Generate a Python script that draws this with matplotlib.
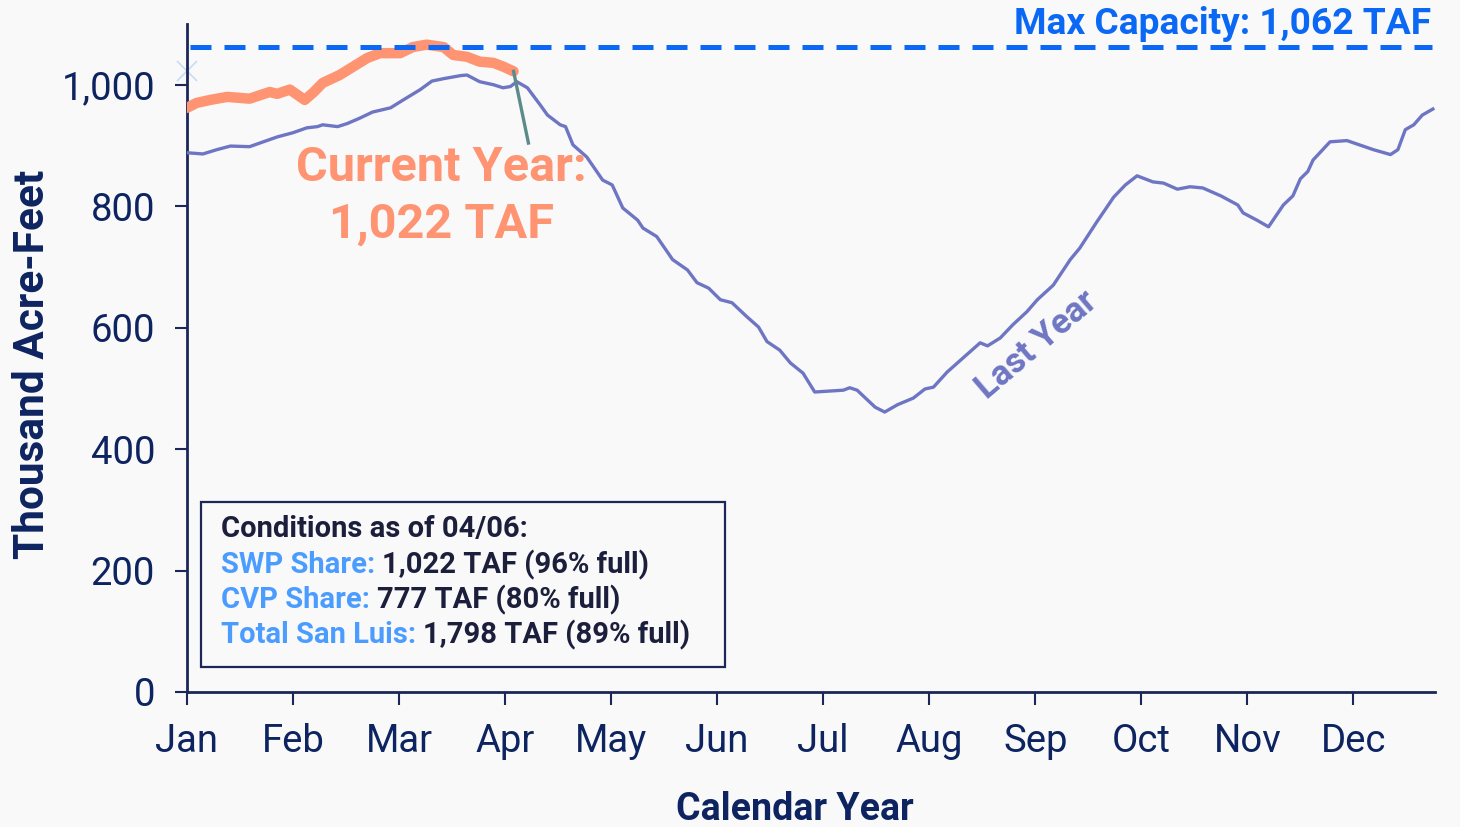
import matplotlib
matplotlib.use("Agg")
import matplotlib.pyplot as plt
from matplotlib.patches import Rectangle

plt.rcParams["font.family"] = ["Roboto", "DejaVu Sans"]

# month position (0 = Jan 1, 1 = Feb 1, ...) and storage in TAF
ly_month = [0.00, 0.15, 0.28, 0.41, 0.59, 0.85, 1.00, 1.13, 1.23, 1.28, 1.42, 1.51, 1.63, 1.75,
            1.92, 2.04, 2.20, 2.31, 2.42, 2.58, 2.64, 2.76, 2.89, 2.98, 3.05, 3.11, 3.21, 3.33,
            3.40, 3.52, 3.57, 3.64, 3.77, 3.92, 4.01, 4.11, 4.25, 4.30, 4.43, 4.58, 4.72, 4.81,
            4.92, 5.03, 5.14, 5.28, 5.39, 5.47, 5.59, 5.69, 5.81, 5.92, 6.19, 6.25, 6.32, 6.49,
            6.58, 6.70, 6.85, 6.96, 7.04, 7.17, 7.37, 7.48, 7.55, 7.67, 7.79, 7.92, 8.02, 8.17,
            8.33, 8.42, 8.58, 8.74, 8.85, 8.96, 9.11, 9.21, 9.34, 9.46, 9.58, 9.75, 9.91, 9.96,
            10.09, 10.20, 10.34, 10.43, 10.50, 10.57, 10.62, 10.78, 10.94, 11.09, 11.19, 11.35,
            11.42, 11.49, 11.57, 11.65, 11.75]
ly_taf = [888, 886, 893, 899, 898, 914, 921, 929, 931, 934, 931, 936, 945, 955,
          962, 975, 992, 1006, 1010, 1015, 1016, 1005, 1000, 995, 997, 1005, 995, 967,
          950, 934, 931, 901, 881, 843, 835, 797, 777, 764, 750, 712, 695, 674,
          665, 646, 641, 618, 601, 577, 563, 542, 525, 494, 497, 501, 497, 469,
          461, 473, 484, 499, 502, 527, 558, 575, 570, 583, 605, 626, 646, 670,
          712, 731, 774, 815, 835, 850, 840, 838, 828, 832, 830, 817, 802, 789,
          777, 766, 802, 817, 845, 857, 876, 906, 908, 899, 893, 885,
          893, 926, 934, 950, 960]

cy_month = [0.00, 0.09, 0.22, 0.38, 0.59, 0.78, 0.85, 0.97, 1.11, 1.19, 1.28, 1.44, 1.57,
            1.70, 1.82, 2.01, 2.13, 2.26, 2.42, 2.51, 2.64, 2.76, 2.89, 2.98, 3.08]
cy_taf = [962, 970, 975, 980, 977, 988, 985, 992, 975, 987, 1003, 1016, 1030,
          1044, 1052, 1052, 1062, 1066, 1062, 1049, 1046, 1038, 1036, 1030, 1022]

max_capacity = 1062
current_value = 1022
months = ["Jan", "Feb", "Mar", "Apr", "May", "Jun", "Jul", "Aug", "Sep", "Oct", "Nov", "Dec"]
y_ticks = [0, 200, 400, 600, 800, 1000]

box_title = "Conditions as of 04/06:"
box_labels = ["SWP Share:", "CVP Share:", "Total San Luis:"]
box_values = ["1,022 TAF (96% full)", "777 TAF (80% full)", "1,798 TAF (89% full)"]

BG = "#f9f9f9"
NAVY = "#1c2657"
TICK_TXT = "#0d2461"
LY_COLOR = "#6e76c4"
CY_COLOR = "#ff9473"
CAP_COLOR = "#0a68f5"
LABEL_BLUE = "#4b9cff"
DARK = "#1b1f3b"

W, H = 1460, 827
fig = plt.figure(figsize=(W / 100, H / 100), dpi=100, facecolor=BG)
ax = fig.add_axes([187 / W, 1 - 692 / H, (1435 - 187) / W, (692 - 24) / H])
ax.set_facecolor(BG)

ax.plot(ly_month, ly_taf, color=LY_COLOR, lw=2.4, solid_joinstyle="round", zorder=3)
ax.plot(cy_month, cy_taf, color=CY_COLOR, lw=7.5, solid_capstyle="round",
        solid_joinstyle="round", zorder=4)
ax.plot([0], [current_value], marker="x", ms=15, mew=1.2, color="#c9dcf3", zorder=2, clip_on=False)
ax.hlines(max_capacity, 0.03, 11.74, colors=CAP_COLOR, lw=3.6, linestyles=(0, (4.2, 2.6)), zorder=5)

# pointer from the current-year label to the end of the orange line
ax.plot([cy_month[-1], 3.22], [current_value, 904], color="#5b8c8a", lw=2.4, zorder=5)
ax.text(2.40, 863, "Current Year:", color=CY_COLOR, fontsize=35, fontweight="bold",
        ha="center", va="center")
ax.text(2.40, 770, "1,022 TAF", color=CY_COLOR, fontsize=35, fontweight="bold",
        ha="center", va="center")
ax.text(11.73, 1100, "Max Capacity: 1,062 TAF", color=CAP_COLOR, fontsize=26.7,
        fontweight="bold", ha="right", va="center")
ax.text(8.01, 572, "Last Year", color=LY_COLOR, fontsize=25, fontweight="bold",
        rotation=40.5, ha="center", va="center", rotation_mode="anchor")

ax.set_xlim(0, 11.77)
ax.set_ylim(0, 1100)
ax.set_xticks(range(12))
ax.set_xticklabels(months)
ax.set_yticks(y_ticks)
ax.set_yticklabels([f"{v:,}" for v in y_ticks])
ax.tick_params(axis="x", length=9, width=1.5, color=NAVY, labelsize=27.5, labelcolor=TICK_TXT, pad=13)
ax.tick_params(axis="y", length=9, width=1.5, color=NAVY, labelsize=27.5, labelcolor=TICK_TXT, pad=14)
for side in ("top", "right"):
    ax.spines[side].set_visible(False)
for side in ("left", "bottom"):
    ax.spines[side].set_color(NAVY)
    ax.spines[side].set_linewidth(2)

fig.text(795 / W, 1 - 810 / H, "Calendar Year", color=TICK_TXT, fontsize=27,
         fontweight="bold", ha="center", va="center")
fig.text(33 / W, 1 - 364 / H, "Thousand Acre-Feet", color=TICK_TXT, fontsize=30.5,
         fontweight="bold", ha="center", va="center", rotation=90)

# conditions box
fig.add_artist(Rectangle((201 / W, 1 - 667 / H), 524 / W, 165 / H, transform=fig.transFigure,
                         facecolor=BG, edgecolor=NAVY, lw=1.6, zorder=6))
renderer = fig.canvas.get_renderer()
x0 = 221 / W
fig.text(x0, 1 - 529 / H, box_title, color=DARK, fontsize=21, fontweight="bold",
         ha="left", va="center", zorder=7)
for lab, val, ypx in zip(box_labels, box_values, [565, 600, 635]):
    t = fig.text(x0, 1 - ypx / H, lab, color=LABEL_BLUE, fontsize=21, fontweight="bold",
                 ha="left", va="center", zorder=7)
    bb = t.get_window_extent(renderer)
    fig.text((bb.x1 + 7) / W, 1 - ypx / H, val, color=DARK, fontsize=21, fontweight="bold",
             ha="left", va="center", zorder=7)

fig.savefig("out.png", dpi=100, facecolor=BG)
